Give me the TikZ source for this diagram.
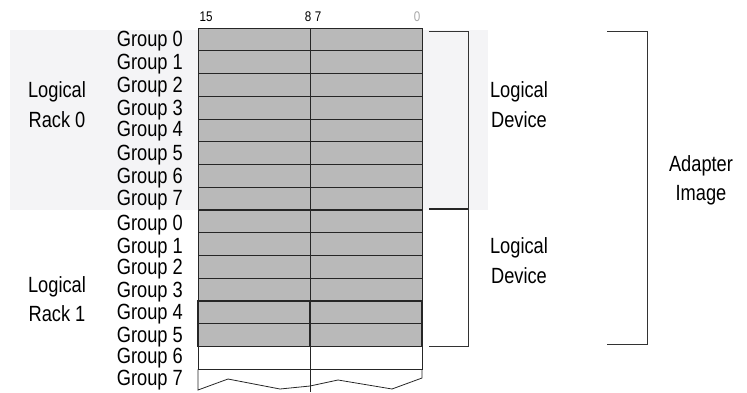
\documentclass[tikz,border=0pt]{standalone}
\usepackage{fontspec}
\setmainfont{Liberation Sans}[FakeStretch=0.83]
\definecolor{panel}{HTML}{F4F4F6}
\definecolor{cellgray}{HTML}{B9B9B9}
\definecolor{bitgray}{HTML}{A8A8A8}
\begin{document}
\begin{tikzpicture}[x=1pt,y=-1pt,
  grp/.style={anchor=base east, font=\fontsize{22}{22}\selectfont, inner sep=0pt},
  lbl/.style={anchor=base, font=\fontsize{22}{22}\selectfont, inner sep=0pt},
  bitlbl/.style={anchor=base, font=\fontsize{14}{14}\selectfont, inner sep=0pt},
  cell/.style={draw=black!85, fill=cellgray, line width=0.8pt, minimum width=112pt, minimum height=22.75pt, inner sep=0pt, outer sep=0pt},
  emptycell/.style={cell, fill=white},
  brk/.style={draw=black!80, line width=0.9pt},
  thickline/.style={draw=black!85, line width=1.6pt}]
\useasboundingbox (0,0) rectangle (747,392);
\fill[panel] (10,30) rectangle (488,210);
% cells
\foreach \k in {0,...,13}{
  \node[cell] (L\k) at (254,{28+22.75*\k+11.375}) {};
  \node[cell] (R\k) at (366,{28+22.75*\k+11.375}) {};
}
\node[emptycell] (L14) at (254,{28+22.75*14+11.375}) {};
\node[emptycell] (R14) at (366,{28+22.75*14+11.375}) {};
% rack boundary
\draw[thickline] (L8.north west) -- (R8.north east);
% highlighted groups 4-5
\draw[thickline] (L12.north west) rectangle (R13.south east);
\draw[thickline] (L12.north east) -- (L13.south east);
% group 7 broken row
\coordinate (z0) at (198,390);
\coordinate (z1) at (228,379);
\coordinate (z2) at (280,389);
\coordinate (z3) at (310,386);
\coordinate (z4) at (338,380);
\coordinate (z5) at (392,389);
\coordinate (z6) at (422,378);
\coordinate (mb) at (310,392);
\draw[draw=black!85, line width=0.8pt] (L14.south west) -- (z0) -- (z1) -- (z2) -- (z3) -- (z4) -- (z5) -- (z6) -- (R14.south east);
\draw[draw=black!85, line width=0.8pt] (L14.south east) -- (mb);
% bit numbers
\node[bitlbl] (b15) at (206,21) {15};
\node[bitlbl] (b8) at (308,21) {8};
\node[bitlbl] (b7) at (318,21) {7};
\node[bitlbl, text=bitgray] (b0) at (417,21) {0};
% group labels
\foreach \i/\yb in {0/46,1/69,2/92,3/115,4/136,5/160,6/183,7/205}{
  \node[grp] (ga\i) at (183,\yb) {Group \i};
}
\foreach \i/\yb in {0/230,1/253,2/274,3/297,4/319,5/342,6/363,7/385}{
  \node[grp] (gb\i) at (183,\yb) {Group \i};
}
% rack labels
\node[lbl] (r0a) at (57,97) {Logical};
\node[lbl] (r0b) at (57,127) {Rack 0};
\node[lbl] (r1a) at (57,292) {Logical};
\node[lbl] (r1b) at (57,321) {Rack 1};
% brackets
\coordinate (d1a) at (429,31);
\coordinate (d1b) at (468,31);
\coordinate (d1c) at (468,209);
\coordinate (d1d) at (429,209);
\coordinate (d2c) at (468,346);
\coordinate (d2d) at (429,346);
\draw[brk] (d1a) -- (d1b) -- (d1c);
\draw[thickline] (d1d) -- (d1c);
\draw[brk] (d1c) -- (d2c) -- (d2d);
\coordinate (a1) at (607,31);
\coordinate (a2) at (647,31);
\coordinate (a3) at (647,344);
\coordinate (a4) at (607,344);
\draw[brk] (a1) -- (a2) -- (a3) -- (a4);
% device labels
\node[lbl] (d1l) at (519,97) {Logical};
\node[lbl] (d1v) at (519,127) {Device};
\node[lbl] (d2l) at (519,253) {Logical};
\node[lbl] (d2v) at (519,283) {Device};
\node[lbl] (ad1) at (701,171) {Adapter};
\node[lbl] (ad2) at (701,200) {Image};
\end{tikzpicture}
\end{document}
